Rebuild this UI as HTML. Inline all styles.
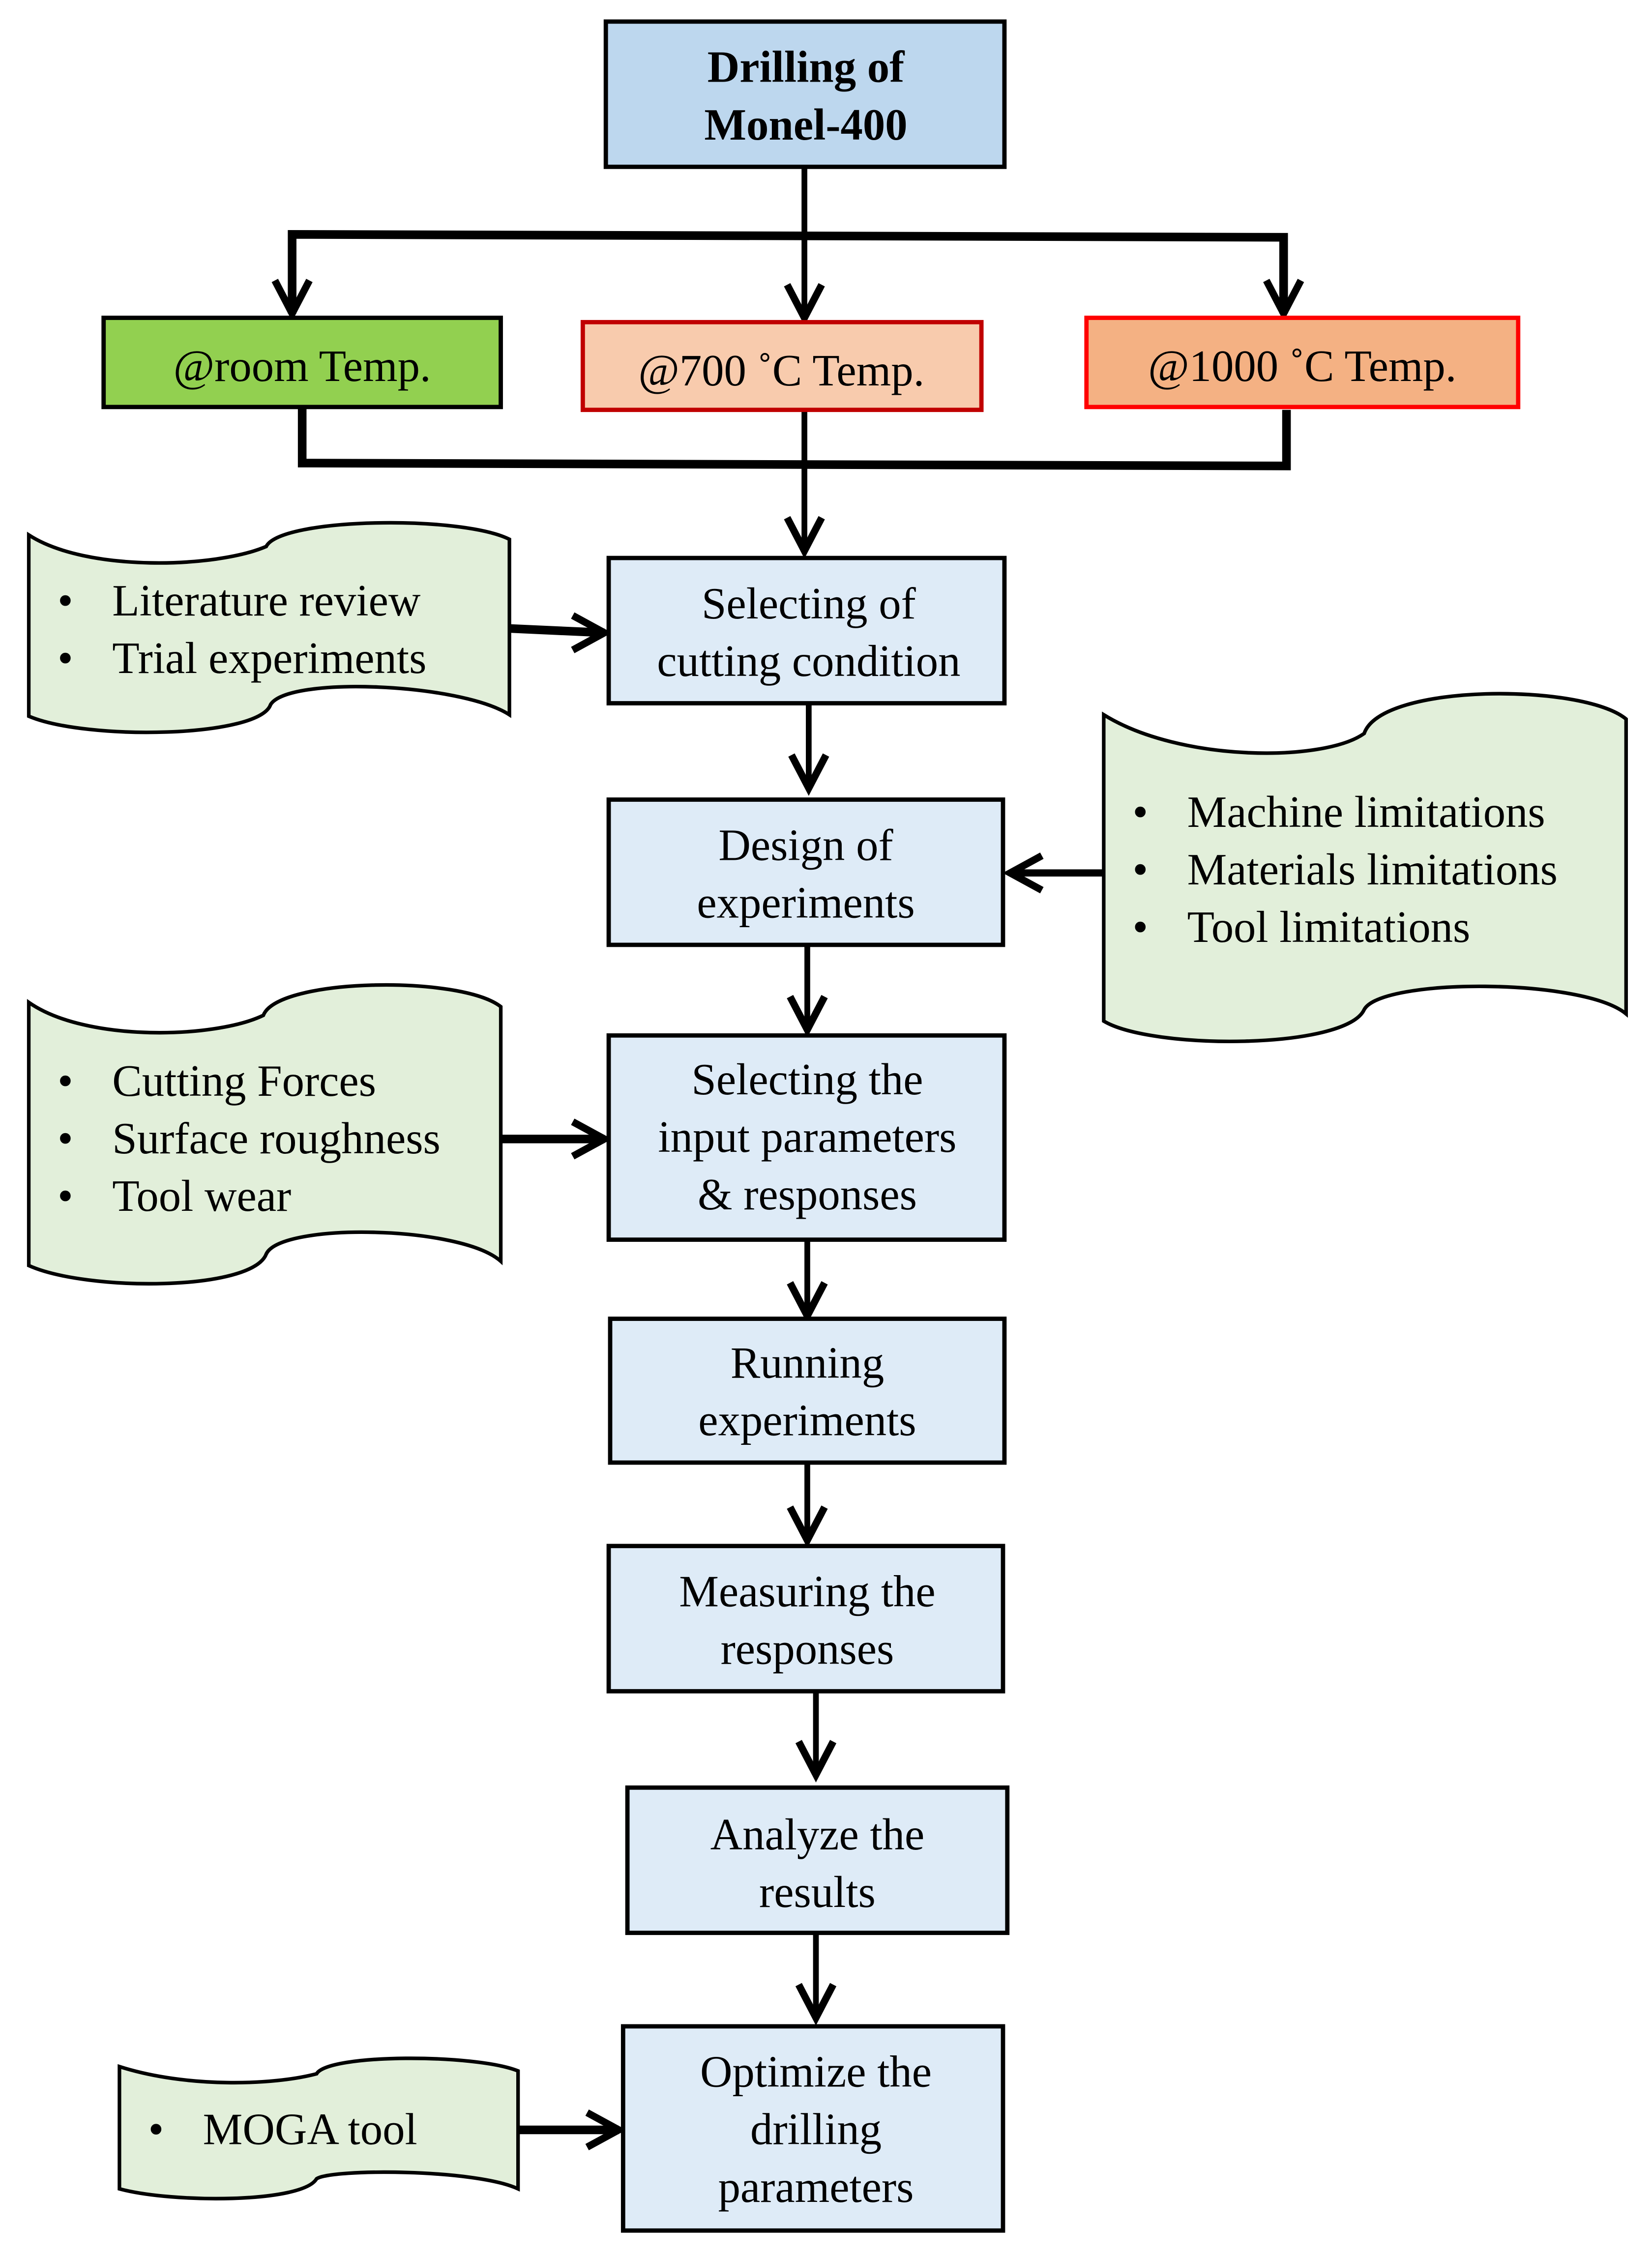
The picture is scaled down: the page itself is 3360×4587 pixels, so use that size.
<!DOCTYPE html>
<html><head><meta charset="utf-8"><style>
html,body{margin:0;padding:0;background:#fff;}
svg{display:block;}
text{font-family:"Liberation Serif",serif;fill:#000;}
</style></head><body>
<svg width="3360" height="4587" viewBox="0 0 1148 1568" preserveAspectRatio="none" xmlns="http://www.w3.org/2000/svg">
<g stroke="#000" stroke-width="4" fill="none">
<line x1="559" y1="116" x2="559" y2="220"/>
<polyline points="203,218 203,163 892,165 892,218" stroke-width="6"/>
<polyline points="210,283 210,322 894,324 894,285" stroke-width="6"/>
<line x1="559" y1="285" x2="559" y2="383"/>
<line x1="562" y1="490" x2="562" y2="548"/>
<line x1="561" y1="658" x2="561" y2="716"/>
<line x1="561" y1="862" x2="561" y2="915"/>
<line x1="561" y1="1017" x2="561" y2="1071"/>
<line x1="567" y1="1176" x2="567" y2="1234"/>
<line x1="567" y1="1344" x2="567" y2="1403"/>
<line x1="354" y1="437" x2="420" y2="440" stroke-width="6"/>
<line x1="767" y1="607" x2="702" y2="607" stroke-width="5"/>
<line x1="348" y1="792" x2="420" y2="792" stroke-width="6"/>
<line x1="360" y1="1481" x2="430" y2="1481" stroke-width="6"/>
<g stroke-width="5" stroke-linejoin="miter">
<polyline points="191,195 203,218 215,195"/>
<polyline points="547,198 559,221 571,198"/>
<polyline points="880,195 892,218 904,195"/>
<polyline points="547,360 559,383 571,360"/>
<polyline points="550,525 562,548 574,525"/>
<polyline points="549,693 561,716 573,693"/>
<polyline points="549,892 561,915 573,892"/>
<polyline points="549,1048 561,1071 573,1048"/>
<polyline points="555,1211 567,1234 579,1211"/>
<polyline points="555,1380 567,1403 579,1380"/>
<polyline points="398,428 420,440 398,452"/>
<polyline points="724,595 702,607 724,619"/>
<polyline points="398,780 420,792 398,804"/>
<polyline points="408,1469 430,1481 408,1493"/>
</g>
</g>
<g stroke-width="3">
<rect x="421" y="15" width="277" height="101" fill="#BDD7EE" stroke="#000"/>
<rect x="72" y="221" width="276" height="62" fill="#92D050" stroke="#000"/>
<rect x="405" y="224" width="277" height="61" fill="#F8CBAD" stroke="#C00000"/>
<rect x="755" y="221" width="300" height="62" fill="#F4B183" stroke="#FF0000"/>
<rect x="423" y="388" width="275" height="101" fill="#DEEBF7" stroke="#000"/>
<rect x="423" y="556" width="274" height="101" fill="#DEEBF7" stroke="#000"/>
<rect x="423" y="720" width="275" height="142" fill="#DEEBF7" stroke="#000"/>
<rect x="424" y="917" width="274" height="100" fill="#DEEBF7" stroke="#000"/>
<rect x="423" y="1075" width="274" height="101" fill="#DEEBF7" stroke="#000"/>
<rect x="436" y="1243" width="264" height="101" fill="#DEEBF7" stroke="#000"/>
<rect x="433" y="1409" width="264" height="142" fill="#DEEBF7" stroke="#000"/>
</g>
<g fill="#E2EFDA" stroke="#000" stroke-width="2.5">
<path d="M20,372 C60,398 150,395 185,380 C195,360 320,358 354,375 L354,497 C320,475 200,470 188,490 C180,513 60,515 20,498 Z"/>
<path d="M767,497 C820,530 920,530 948,510 C960,475 1100,475 1130,500 L1130,705 C1100,680 960,680 948,702 C935,730 800,730 767,710 Z"/>
<path d="M20,697 C60,725 150,722 183,706 C193,680 320,678 348,700 L348,877 C320,852 195,850 185,872 C175,898 60,898 20,880 Z"/>
<path d="M83,1437 C130,1452 190,1450 220,1442 C228,1428 330,1428 360,1440 L360,1522 C330,1508 230,1508 220,1515 C210,1532 120,1532 83,1522 Z"/>
</g>
<g text-anchor="middle" font-size="31">
<text x="560" y="57" font-weight="bold">Drilling of</text>
<text x="560" y="97" font-weight="bold">Monel-400</text>
<text x="210" y="265">@room Temp.</text>
<text x="543" y="268">@700 ˚C Temp.</text>
<text x="905" y="265">@1000 ˚C Temp.</text>
<text x="562" y="430">Selecting  of</text>
<text x="562" y="470">cutting condition</text>
<text x="560" y="598">Design of</text>
<text x="560" y="638">experiments</text>
<text x="561" y="761">Selecting the</text>
<text x="561" y="801">input parameters</text>
<text x="561" y="841">&amp; responses</text>
<text x="561" y="958">Running</text>
<text x="561" y="998">experiments</text>
<text x="561" y="1117">Measuring the</text>
<text x="561" y="1157">responses</text>
<text x="568" y="1286">Analyze the</text>
<text x="568" y="1326">results</text>
<text x="567" y="1451">Optimize the</text>
<text x="567" y="1491">drilling</text>
<text x="567" y="1531">parameters</text>
</g>
<g font-size="31">
<text x="40" y="428">•</text><text x="78" y="428">Literature review</text>
<text x="40" y="468">•</text><text x="78" y="468">Trial  experiments</text>
<text x="787" y="575">•</text><text x="825" y="575">Machine limitations</text>
<text x="787" y="615">•</text><text x="825" y="615">Materials limitations</text>
<text x="787" y="655">•</text><text x="825" y="655">Tool limitations</text>
<text x="40" y="762">•</text><text x="78" y="762">Cutting Forces</text>
<text x="40" y="802">•</text><text x="78" y="802">Surface roughness</text>
<text x="40" y="842">•</text><text x="78" y="842">Tool wear</text>
<text x="103" y="1491">•</text><text x="141" y="1491">MOGA tool</text>
</g>
</svg>
</body></html>
